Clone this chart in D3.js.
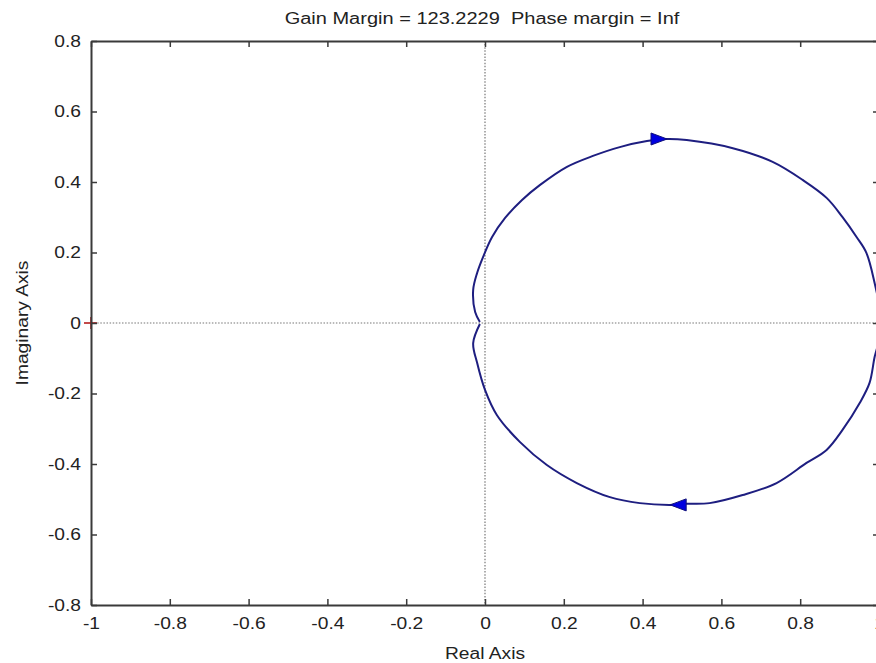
<!DOCTYPE html>
<html>
<head>
<meta charset="utf-8">
<script src="https://cdn.jsdelivr.net/npm/d3@7"></script>
<style>
  html, body { margin: 0; padding: 0; background: #fff; overflow: hidden; }
  text { font-family: "Liberation Sans", Arial, sans-serif; fill: #222; white-space: pre; }
</style>
</head>
<body>
<script>
// Nyquist curve (real, imaginary)
const upperRe = [-0.013, -0.025, -0.030, -0.020, -0.005, 0.018, 0.051, 0.094, 0.139, 0.208, 0.274, 0.342, 0.411, 0.461, 0.512, 0.629, 0.730, 0.806, 0.867, 0.907, 0.943, 0.968, 0.989, 1.000, 1.002];
const upperIm = [0.003, 0.031, 0.094, 0.142, 0.187, 0.244, 0.298, 0.349, 0.391, 0.443, 0.474, 0.499, 0.516, 0.522, 0.519, 0.496, 0.457, 0.406, 0.355, 0.301, 0.244, 0.199, 0.113, 0.051, 0.000];
const lowerRe = [1.000, 0.989, 0.976, 0.951, 0.907, 0.867, 0.816, 0.740, 0.654, 0.570, 0.512, 0.469, 0.393, 0.317, 0.233, 0.157, 0.089, 0.030, 0.000, -0.020, -0.030, -0.013];
const lowerIm = [-0.048, -0.096, -0.170, -0.227, -0.304, -0.360, -0.397, -0.454, -0.488, -0.511, -0.513, -0.516, -0.511, -0.494, -0.454, -0.403, -0.338, -0.261, -0.190, -0.113, -0.057, -0.003];

// direction arrows: tip position and heading (+1 right, -1 left)
const arrowRe = [0.462, 0.470];
const arrowIm = [0.522, -0.516];
const arrowDir = [1, -1];

const xTicks = [-1, -0.8, -0.6, -0.4, -0.2, 0, 0.2, 0.4, 0.6, 0.8, 1];
const yTicks = [-0.8, -0.6, -0.4, -0.2, 0, 0.2, 0.4, 0.6, 0.8];

const titleText = "Gain Margin = 123.2229  Phase margin = Inf";
const xLabel = "Real Axis";
const yLabel = "Imaginary Axis";

const width = 876, height = 663;
const m = { left: 91, right: 879, top: 41, bottom: 605 };

const svg = d3.select("body").append("svg")
  .attr("width", width)
  .attr("height", height);

svg.append("rect").attr("width", width).attr("height", height).attr("fill", "#fff");

const x = d3.scaleLinear().domain([-1, 1]).range([m.left, m.right]);
const y = d3.scaleLinear().domain([-0.8, 0.8]).range([m.bottom, m.top]);

// plain hyphen for negatives, like the original
const fmt = d => d3.format("~g")(d).replace("\u2212", "-");

// the fonts in the picture are a bit wider than Arial
function widen(sel, k) {
  sel.each(function () {
    const len = this.getComputedTextLength();
    d3.select(this).attr("textLength", len * k).attr("lengthAdjust", "spacingAndGlyphs");
  });
}

// dotted zero lines
svg.append("line")
  .attr("x1", m.left).attr("x2", m.right)
  .attr("y1", y(0)).attr("y2", y(0))
  .attr("stroke", "#777").attr("stroke-width", 1.2)
  .attr("stroke-dasharray", "1.5,1.6");
svg.append("line")
  .attr("x1", x(0)).attr("x2", x(0))
  .attr("y1", m.top).attr("y2", m.bottom)
  .attr("stroke", "#777").attr("stroke-width", 1.2)
  .attr("stroke-dasharray", "1.5,1.6");

// critical point marker
svg.append("path")
  .attr("d", `M${x(-1) - 7},${y(0)}H${x(-1) + 6}M${x(-1)},${y(0) - 6}V${y(0) + 6}`)
  .attr("stroke", "#b01010").attr("stroke-width", 1.5);

// curve
const pts = upperRe.map((r, i) => [r, upperIm[i]])
  .concat(lowerRe.map((r, i) => [r, lowerIm[i]]));

const line = d3.line().x(d => x(d[0])).y(d => y(d[1])).curve(d3.curveCatmullRom);

svg.append("path")
  .datum(pts)
  .attr("d", line)
  .attr("fill", "none")
  .attr("stroke", "#1e1e80")
  .attr("stroke-width", 2)
  .attr("stroke-linejoin", "round");

// arrows
svg.selectAll("path.arrow")
  .data(arrowRe.map((r, i) => ({ r: r, i: arrowIm[i], dir: arrowDir[i] })))
  .join("path")
  .attr("class", "arrow")
  .attr("d", d => {
    const tx = x(d.r), ty = y(d.i), bx = tx - d.dir * 16;
    return `M${tx},${ty}L${bx},${ty - 6}L${bx},${ty + 6}Z`;
  })
  .attr("fill", "#0000e0")
  .attr("stroke", "#10107a")
  .attr("stroke-width", 1);

// axes box with inward ticks
const axisColor = "#3a3a3a";
const xAxisB = svg.append("g").attr("transform", `translate(0,${m.bottom})`)
  .call(d3.axisBottom(x).tickValues(xTicks).tickSizeInner(-6).tickSizeOuter(0).tickFormat(fmt).tickPadding(13));
const xAxisT = svg.append("g").attr("transform", `translate(0,${m.top})`)
  .call(d3.axisTop(x).tickValues(xTicks).tickSizeInner(-6).tickSizeOuter(0).tickFormat(""));
const yAxisL = svg.append("g").attr("transform", `translate(${m.left},0)`)
  .call(d3.axisLeft(y).tickValues(yTicks).tickSizeInner(-6).tickSizeOuter(0).tickFormat(fmt).tickPadding(10));
const yAxisR = svg.append("g").attr("transform", `translate(${m.right},0)`)
  .call(d3.axisRight(y).tickValues(yTicks).tickSizeInner(-6).tickSizeOuter(0).tickFormat(""));

[xAxisB, xAxisT, yAxisL, yAxisR].forEach(g => {
  g.select(".domain").attr("stroke", axisColor).attr("stroke-width", 2);
  g.selectAll(".tick line").attr("stroke", axisColor).attr("stroke-width", 1.5);
  g.selectAll(".tick text")
    .attr("font-family", "Liberation Sans, Arial, sans-serif")
    .attr("font-size", 16)
    .attr("fill", "#222");
});
widen(xAxisB.selectAll(".tick text"), 1.2);
widen(yAxisL.selectAll(".tick text"), 1.2);

// title and labels
const t = svg.append("text")
  .attr("x", 482).attr("y", 24)
  .attr("text-anchor", "middle")
  .attr("font-size", 16)
  .text(titleText);
widen(t, 1.25);

const xl = svg.append("text")
  .attr("x", 485).attr("y", 659)
  .attr("text-anchor", "middle")
  .attr("font-size", 16)
  .text(xLabel);
widen(xl, 1.2);

const yl = svg.append("text")
  .attr("transform", `translate(28,${y(0)}) rotate(-90)`)
  .attr("text-anchor", "middle")
  .attr("font-size", 16)
  .text(yLabel);
widen(yl, 1.2);
</script>
</body>
</html>
